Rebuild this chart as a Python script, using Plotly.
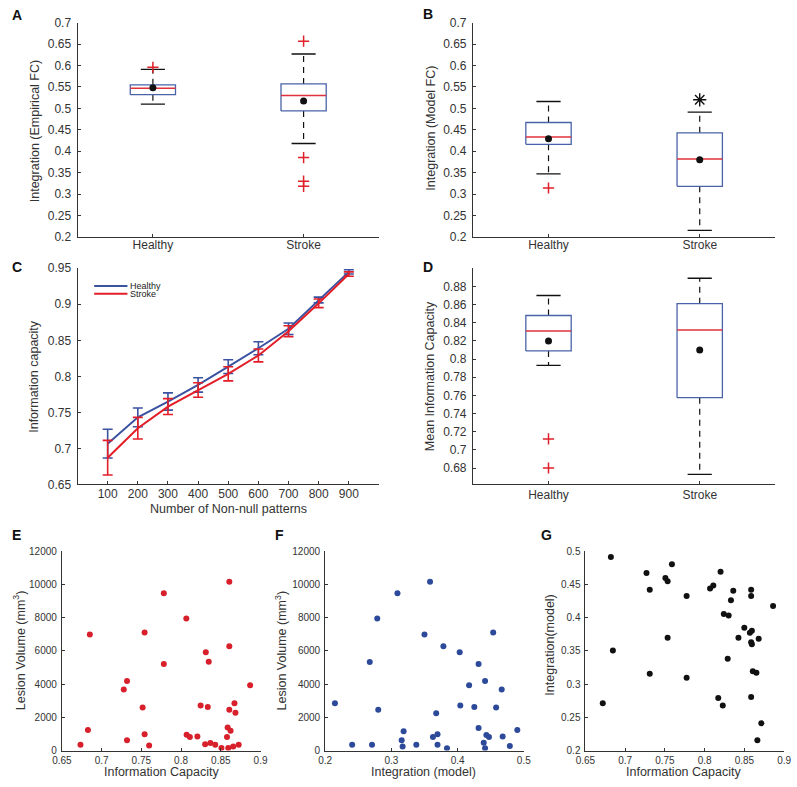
import plotly.graph_objects as go

W, H = 797, 787

# ---------------- data ----------------
groups = ["Healthy", "Stroke"]

# Panel A: Integration (Empirical FC)
a_q1 = [0.532, 0.494]
a_med = [0.547, 0.530]
a_q3 = [0.555, 0.557]
a_lo = [0.510, 0.418]
a_hi = [0.591, 0.627]
a_mean = [0.548, 0.517]
a_out = [[0.596], [0.657, 0.385, 0.330, 0.318]]

# Panel B: Integration (Model FC)
b_q1 = [0.416, 0.318]
b_med = [0.433, 0.382]
b_q3 = [0.467, 0.443]
b_lo = [0.347, 0.215]
b_hi = [0.516, 0.491]
b_mean = [0.429, 0.380]
b_out = [[0.314], []]
b_sig = [0.520]  # significance asterisk above Stroke

# Panel C: Information capacity vs number of non-null patterns
c_n = [100, 200, 300, 400, 500, 600, 700, 800, 900]
c_healthy = [0.7065, 0.743, 0.765, 0.788, 0.8135, 0.839, 0.866, 0.906, 0.945]
c_healthy_err = [0.020, 0.013, 0.012, 0.010, 0.0095, 0.009, 0.008, 0.004, 0.003]
c_stroke = [0.687, 0.728, 0.758, 0.781, 0.8035, 0.829, 0.8626, 0.9013, 0.942]
c_stroke_err = [0.024, 0.015, 0.011, 0.010, 0.0098, 0.009, 0.0075, 0.006, 0.003]

# Panel D: Mean Information Capacity
d_q1 = [0.809, 0.7575]
d_med = [0.831, 0.832]
d_q3 = [0.848, 0.861]
d_lo = [0.793, 0.673]
d_hi = [0.870, 0.889]
d_mean = [0.820, 0.810]
d_out = [[0.712, 0.680], []]

# Panel E: Lesion volume vs information capacity
e_ic = [0.6852, 0.6734, 0.6828, 0.7279, 0.732, 0.732, 0.7516, 0.7541, 0.7541, 0.7598,
        0.7783, 0.7783, 0.8066, 0.807, 0.8111, 0.8205, 0.8246, 0.8303, 0.8311, 0.8336,
        0.8348, 0.8369, 0.843, 0.8508, 0.8578, 0.8586, 0.8607, 0.8607, 0.8607, 0.8594,
        0.8623, 0.8656, 0.8672, 0.8684, 0.8725, 0.8869]
e_vol = [6986, 355, 1243, 3671, 4184, 612, 2585, 7105, 987, 296,
         9473, 5210, 7953, 947, 809, 849, 2704, 375, 5921, 2625,
         5348, 454, 355, 158, 809, 1381, 10164, 6276, 2447, 158,
         1184, 237, 2842, 2270, 355, 3927]

# Panel F: Lesion volume vs integration (model)
f_int = [0.2148, 0.2408, 0.2708, 0.2674, 0.2787, 0.2802, 0.3092, 0.3156, 0.3185, 0.317,
         0.3377, 0.3584, 0.350, 0.3786, 0.3628, 0.3677, 0.3697, 0.3697, 0.384, 0.4032,
         0.4041, 0.4174, 0.4317, 0.4253, 0.4317, 0.4395, 0.4415, 0.4435, 0.4415, 0.4474,
         0.4538, 0.4582, 0.4666, 0.4681, 0.4789, 0.4902]
f_vol = [2842, 355, 355, 5329, 7953, 2447, 9473, 612, 1164, 237,
         355, 10164, 6986, 6276, 809, 2250, 987, 355, 138, 5921,
         2704, 3927, 5210, 2625, 1362, 474, 4184, 928, 138, 809,
         7105, 2585, 3671, 849, 276, 1243]

# Panel G: Integration (model) vs information capacity
g_ic = [0.682, 0.6718, 0.6845, 0.7268, 0.7309, 0.7309, 0.7506, 0.7534, 0.7588, 0.7534,
        0.7773, 0.7773, 0.8068, 0.8109, 0.8171, 0.820, 0.8241, 0.8302, 0.8331, 0.836,
        0.829, 0.8228, 0.8425, 0.8499, 0.8569, 0.8585, 0.8594, 0.8594, 0.8585, 0.8585,
        0.8585, 0.8606, 0.8651, 0.868, 0.8663, 0.8713, 0.8861]
g_int = [0.4911, 0.2711, 0.3505, 0.467, 0.4418, 0.3155, 0.4595, 0.4546, 0.4803, 0.3698,
         0.4324, 0.3096, 0.4438, 0.4482, 0.279, 0.4689, 0.4053, 0.4033, 0.426, 0.4403,
         0.3382, 0.2676, 0.3698, 0.3846, 0.3772, 0.3629, 0.3599, 0.3801, 0.4418, 0.4324,
         0.2805, 0.3194, 0.317, 0.3683, 0.2153, 0.241, 0.4176]

# tick labels
ab_ticks = [0.2, 0.25, 0.3, 0.35, 0.4, 0.45, 0.5, 0.55, 0.6, 0.65, 0.7]
ab_ticktext = ["0.2", "0.25", "0.3", "0.35", "0.4", "0.45", "0.5", "0.55", "0.6", "0.65", "0.7"]
c_yticks = [0.65, 0.7, 0.75, 0.8, 0.85, 0.9, 0.95]
c_yticktext = ["0.65", "0.7", "0.75", "0.8", "0.85", "0.9", "0.95"]
d_yticks = [0.68, 0.70, 0.72, 0.74, 0.76, 0.78, 0.80, 0.82, 0.84, 0.86, 0.88]
d_yticktext = ["0.68", "0.7", "0.72", "0.74", "0.76", "0.78", "0.8", "0.82", "0.84", "0.86", "0.88"]
vol_ticks = [0, 2000, 4000, 6000, 8000, 10000, 12000]
ic_ticks = [0.65, 0.7, 0.75, 0.8, 0.85, 0.9]
ic_ticktext = ["0.65", "0.7", "0.75", "0.8", "0.85", "0.9"]
int_ticks = [0.2, 0.3, 0.4, 0.5]
int_ticktext = ["0.2", "0.3", "0.4", "0.5"]
g_yticks = [0.2, 0.25, 0.3, 0.35, 0.4, 0.45, 0.5]
g_yticktext = ["0.2", "0.25", "0.3", "0.35", "0.4", "0.45", "0.5"]

# ---------------- styles ----------------
FONT = "Liberation Sans, Arial, Helvetica, sans-serif"
AXC = "#333333"
BOXBLUE = "#4a63a8"
MEDRED = "#e0323c"
OUTRED = "#e0202a"
LBLUE = "#3a52a0"
LRED = "#e31e28"
DOTRED = "#d7202b"
DOTBLUE = "#2d4a9a"

fig = go.Figure()


def px(x):
    return x / W


def py(y):
    return 1 - y / H


# axes pixel boxes: (x0, x1, ytop, ybottom)
panels = {
    "A": (69, 377, 16, 234),
    "B": (473, 782, 16, 234),
    "C": (69, 377, 266, 486),
    "D": (473, 782, 266, 486),
    "E": (53, 256, 554, 757),
    "F": (322, 525, 554, 757),
    "G": (588, 791, 554, 757),
}
axis_ids = {"A": ("x", "y"), "B": ("x2", "y2"), "C": ("x3", "y3"), "D": ("x4", "y4"),
            "E": ("x5", "y5"), "F": ("x6", "y6"), "G": ("x7", "y7")}

BW = 0.15   # box half-width
CW = 0.08   # cap half-width


def add_box(xa, ya, q1, med, q3, lo, hi, mean, outs):
    for i in range(len(groups)):
        c = i + 1
        # whiskers (dashed)
        fig.add_trace(go.Scatter(x=[c, c, None, c, c], y=[q3[i], hi[i], None, q1[i], lo[i]],
                                 mode="lines", line=dict(color="#111111", width=1.2, dash="6px,5px"),
                                 xaxis=xa, yaxis=ya, showlegend=False, hoverinfo="skip"))
        # caps
        fig.add_trace(go.Scatter(x=[c - CW, c + CW, None, c - CW, c + CW],
                                 y=[hi[i], hi[i], None, lo[i], lo[i]],
                                 mode="lines", line=dict(color="#111111", width=1.3),
                                 xaxis=xa, yaxis=ya, showlegend=False, hoverinfo="skip"))
        # box
        fig.add_trace(go.Scatter(x=[c - BW, c + BW, c + BW, c - BW, c - BW],
                                 y=[q1[i], q1[i], q3[i], q3[i], q1[i]],
                                 mode="lines", line=dict(color=BOXBLUE, width=1.3),
                                 xaxis=xa, yaxis=ya, showlegend=False, hoverinfo="skip"))
        # median
        fig.add_trace(go.Scatter(x=[c - BW, c + BW], y=[med[i], med[i]],
                                 mode="lines", line=dict(color=MEDRED, width=1.5),
                                 xaxis=xa, yaxis=ya, showlegend=False, hoverinfo="skip"))
        # outliers
        if outs[i]:
            fig.add_trace(go.Scatter(x=[c] * len(outs[i]), y=outs[i], mode="markers",
                                     marker=dict(symbol="cross-thin-open", size=8, color=OUTRED,
                                                 line=dict(color=OUTRED, width=1.5)),
                                     xaxis=xa, yaxis=ya, showlegend=False, hoverinfo="skip"))
        # mean
        fig.add_trace(go.Scatter(x=[c], y=[mean[i]], mode="markers",
                                 marker=dict(color="#111111", size=7),
                                 xaxis=xa, yaxis=ya, showlegend=False, hoverinfo="skip"))


add_box("x", "y", a_q1, a_med, a_q3, a_lo, a_hi, a_mean, a_out)
add_box("x2", "y2", b_q1, b_med, b_q3, b_lo, b_hi, b_mean, b_out)
fig.add_trace(go.Scatter(x=[2], y=b_sig, mode="markers",
                         marker=dict(symbol="asterisk-open", size=11, color="#111111",
                                     line=dict(color="#111111", width=1.4)),
                         xaxis="x2", yaxis="y2", showlegend=False, hoverinfo="skip"))
add_box("x4", "y4", d_q1, d_med, d_q3, d_lo, d_hi, d_mean, d_out)

# Panel C lines
fig.add_trace(go.Scatter(x=c_n, y=c_healthy, mode="lines", name="Healthy",
                         line=dict(color=LBLUE, width=2),
                         error_y=dict(type="data", array=c_healthy_err, color=LBLUE,
                                      thickness=1.6, width=5),
                         xaxis="x3", yaxis="y3", showlegend=False))
fig.add_trace(go.Scatter(x=c_n, y=c_stroke, mode="lines", name="Stroke",
                         line=dict(color=LRED, width=2),
                         error_y=dict(type="data", array=c_stroke_err, color=LRED,
                                      thickness=1.6, width=5),
                         xaxis="x3", yaxis="y3", showlegend=False))

# scatter panels
fig.add_trace(go.Scatter(x=e_ic, y=e_vol, mode="markers", marker=dict(color=DOTRED, size=6),
                         xaxis="x5", yaxis="y5", showlegend=False))
fig.add_trace(go.Scatter(x=f_int, y=f_vol, mode="markers", marker=dict(color=DOTBLUE, size=6),
                         xaxis="x6", yaxis="y6", showlegend=False))
fig.add_trace(go.Scatter(x=g_ic, y=g_int, mode="markers", marker=dict(color="#111111", size=6),
                         xaxis="x7", yaxis="y7", showlegend=False))


def axis_style(size, standoff):
    return dict(showline=True, linecolor=AXC, linewidth=1, mirror=False,
                ticks="inside", ticklen=3, tickcolor=AXC, tickwidth=1,
                showgrid=False, zeroline=False,
                tickfont=dict(family=FONT, size=size, color=AXC),
                ticklabelstandoff=standoff)


layout = dict(width=W, height=H, margin=dict(l=0, r=0, t=0, b=0, pad=0), autosize=False,
              plot_bgcolor="white", paper_bgcolor="white", showlegend=False,
              font=dict(family=FONT, color=AXC))

xcfg = {
    "A": dict(range=[0.5, 2.5], tickvals=[1, 2], ticktext=groups, size=12, so=-3),
    "B": dict(range=[0.5, 2.5], tickvals=[1, 2], ticktext=groups, size=12, so=-3),
    "C": dict(range=[0, 1000], tickvals=c_n, ticktext=[str(v) for v in c_n], size=12, so=-2),
    "D": dict(range=[0.5, 2.5], tickvals=[1, 2], ticktext=groups, size=12, so=-1),
    "E": dict(range=[0.65, 0.9], tickvals=ic_ticks, ticktext=ic_ticktext, size=10, so=0),
    "F": dict(range=[0.2, 0.5], tickvals=int_ticks, ticktext=int_ticktext, size=10, so=0),
    "G": dict(range=[0.65, 0.9], tickvals=ic_ticks, ticktext=ic_ticktext, size=10, so=0),
}
ycfg = {
    "A": dict(range=[0.2, 0.7], tickvals=ab_ticks, ticktext=ab_ticktext, size=12, so=3),
    "B": dict(range=[0.2, 0.7], tickvals=ab_ticks, ticktext=ab_ticktext, size=12, so=3),
    "C": dict(range=[0.65, 0.95], tickvals=c_yticks, ticktext=c_yticktext, size=12, so=3),
    "D": dict(range=[0.662, 0.9], tickvals=d_yticks, ticktext=d_yticktext, size=12, so=3),
    "E": dict(range=[0, 12000], tickvals=vol_ticks, ticktext=[str(v) for v in vol_ticks], size=10, so=2),
    "F": dict(range=[0, 12000], tickvals=vol_ticks, ticktext=[str(v) for v in vol_ticks], size=10, so=2),
    "G": dict(range=[0.2, 0.5], tickvals=g_yticks, ticktext=g_yticktext, size=10, so=2),
}

for k, (x0, x1, yt, yb) in panels.items():
    xa, ya = axis_ids[k]
    xname = "xaxis" + xa[1:]
    yname = "yaxis" + ya[1:]
    xc = xcfg[k]
    yc = ycfg[k]
    xd = axis_style(xc["size"], xc["so"])
    xd.update(range=xc["range"], tickvals=xc["tickvals"], ticktext=xc["ticktext"],
              domain=[px(x0), px(x1)], anchor=ya, tickmode="array")
    yd = axis_style(yc["size"], yc["so"])
    yd.update(range=yc["range"], tickvals=yc["tickvals"], ticktext=yc["ticktext"],
              domain=[py(yb), py(yt)], anchor=xa, tickmode="array")
    layout[xname] = xd
    layout[yname] = yd

fig.update_layout(**layout)

annotations = []


def text(x, y, s, size=12.5, angle=0, bold=False):
    annotations.append(dict(x=px(x), y=py(y), xref="paper", yref="paper", text=s,
                            showarrow=False, textangle=angle, xanchor="center", yanchor="middle",
                            borderpad=0,
                            font=dict(family=FONT, size=size, color="#111111" if bold else AXC)))


# panel letters
for s, (x, y) in {"A": (7, 8), "B": (427, 7), "C": (7, 265), "D": (427, 265),
                  "E": (7, 538), "F": (275, 538), "G": (548, 538)}.items():
    text(x, y, "<b>%s</b>" % s, size=14, bold=True)

# axis titles
text(25, 126, "Integration (Empirical FC)", angle=-90)
text(430, 123, "Integration (Model FC)", angle=-90)
text(25, 376, "Information capacity", angle=-90)
text(429, 376, "Mean Information Capacity", angle=-90)
text(223, 511, "Number of Non-null patterns")
text(10, 655, "Lesion Volume (mm<sup>3</sup>)", angle=-90)
text(277, 655, "Lesion Volume (mm<sup>3</sup>)", angle=-90)
text(552, 650, "Integration(model)", angle=-90)
text(155, 779, "Information Capacity")
text(423, 779, "Integration (model)")
text(688, 779, "Information Capacity")

# legend for panel C (manual)
shapes = []
for lbl, col, yy in [("Healthy", LBLUE, 284), ("Stroke", LRED, 292)]:
    shapes.append(dict(type="line", xref="paper", yref="paper", x0=px(86), x1=px(120),
                       y0=py(yy), y1=py(yy), line=dict(color=col, width=2)))
    annotations.append(dict(x=px(122), y=py(yy), xref="paper", yref="paper", text=lbl,
                            showarrow=False, xanchor="left", yanchor="middle", borderpad=0,
                            font=dict(family=FONT, size=9, color="#222222")))

fig.update_layout(annotations=annotations, shapes=shapes)
fig.write_html("out.html", config={"displayModeBar": False},
               post_script="document.body.style.margin='0';document.body.style.padding='0';"
                           "document.body.style.overflow='hidden';")
